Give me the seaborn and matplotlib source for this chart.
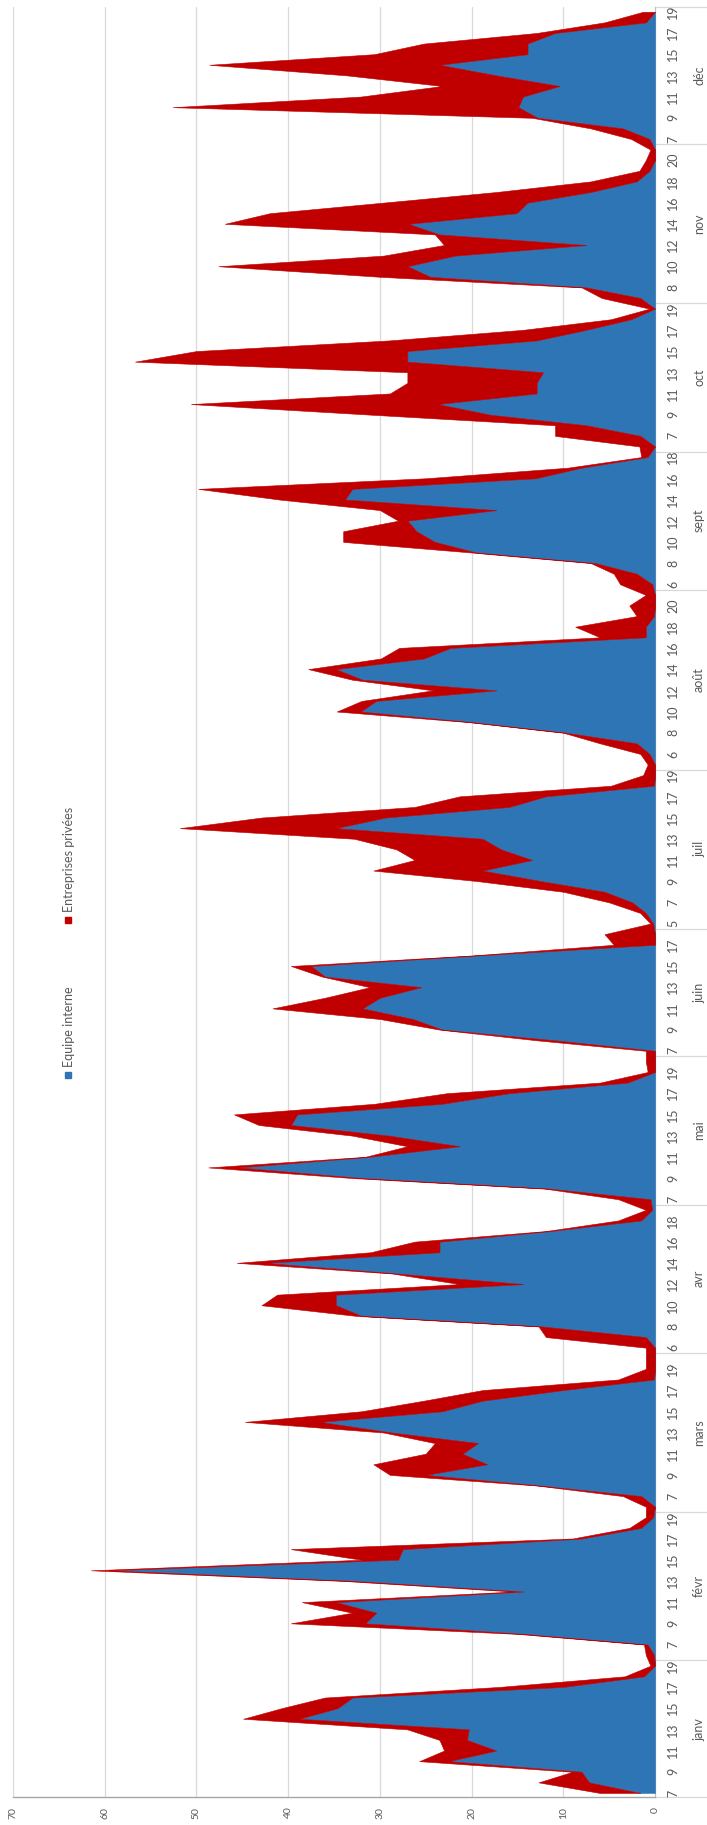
import numpy as np
import matplotlib
matplotlib.use("Agg")
import matplotlib.pyplot as plt
import matplotlib.transforms as mtransforms
import seaborn as sns

# Category axis: month groups and the hours recorded in each month
months = ["janv", "févr", "mars", "avr", "mai", "juin",
          "juil", "août", "sept", "oct", "nov", "déc"]
month_first_hour = [7, 6, 6, 6, 7, 7, 5, 5, 6, 6, 7, 7]
month_last_hour = [19, 19, 20, 19, 20, 18, 19, 21, 18, 19, 21, 19]

# Series: calls handled by the in-house team and by private companies
interne = [
    1.6, 7.2, 8.0, 22.5, 17.3, 20.5, 20.3, 38.8, 34.6, 33.0, 10.0, 1.2, 0.0,            # janv
    0.1, 0.8, 14.3, 31.6, 30.4, 34.8, 14.4, 33.0, 59.5, 28.0, 27.5, 8.0, 1.5, 0.2,      # févr
    0.0, 1.5, 12.6, 25.0, 18.3, 21.0, 19.3, 28.7, 36.5, 23.2, 18.8, 10.0, 0.1, 0.0, 0.0,  # mars
    0.0, 1.0, 12.3, 32.0, 34.8, 34.8, 14.4, 28.2, 42.5, 23.5, 23.5, 11.4, 1.5, 0.3,     # avr
    0.5, 11.5, 32.0, 45.4, 31.2, 21.3, 29.0, 39.7, 39.0, 23.2, 15.9, 3.0, 0.0, 0.0,     # mai
    0.0, 11.0, 23.2, 26.4, 31.9, 30.0, 25.5, 36.0, 37.5, 19.3, 0.0, 0.0,                # juin
    0.2, 1.0, 2.5, 5.5, 12.4, 18.8, 13.4, 16.8, 18.8, 34.8, 29.4, 15.9, 11.9, 0.1, 0.0,  # juil
    0.0, 0.6, 2.0, 9.7, 20.0, 32.1, 30.4, 17.3, 31.9, 34.8, 25.2, 22.3, 1.0, 1.0, 0.1, 0.0, 0.0,  # août
    0.3, 2.0, 6.5, 19.5, 24.0, 26.0, 27.0, 17.3, 33.8, 33.0, 13.0, 8.0, 0.8,            # sept
    0.0, 1.6, 7.5, 18.0, 23.7, 12.9, 12.9, 12.2, 27.0, 27.0, 12.9, 7.5, 2.6, 0.0,       # oct
    1.6, 7.5, 24.5, 27.0, 21.8, 7.5, 23.5, 26.9, 15.1, 13.9, 7.0, 2.0, 0.6, 0.0, 0.0,   # nov
    0.6, 3.5, 12.8, 14.9, 14.4, 10.4, 17.3, 23.5, 13.9, 13.9, 10.9, 1.0, 0.0,           # déc
]
privees = [
    4.4, 5.5, 1.0, 3.2, 5.7, 3.0, 6.7, 6.1, 6.1, 3.0, 7.0, 2.1, 0.5,                    # janv
    0.9, 0.4, 0.6, 8.1, 2.6, 3.7, 1.0, 1.0, 2.0, 4.0, 12.2, 1.0, 1.3, 0.8,              # févr
    1.0, 2.0, 0.3, 3.9, 12.4, 4.0, 4.7, 0.9, 8.2, 8.8, 6.4, 8.8, 3.9, 1.0, 1.0,         # mars
    1.0, 10.9, 0.4, 0.6, 8.1, 6.4, 6.9, 0.5, 3.1, 7.5, 2.7, 0.5, 2.5, 0.7,              # avr
    3.5, 0.5, 1.0, 3.3, 0.4, 5.7, 4.0, 3.5, 6.9, 7.4, 6.8, 3.0, 0.8, 1.0,               # mai
    1.0, 2.0, 0.3, 3.6, 9.8, 6.0, 5.6, 0.3, 2.2, 0.5, 4.5, 5.5,                         # juin
    0.3, 0.6, 2.5, 4.5, 6.9, 11.9, 12.8, 11.4, 14.0, 17.0, 13.5, 10.3, 9.4, 4.7, 1.3,   # juil
    0.8, 1.0, 4.0, 0.3, 0.3, 2.6, 1.6, 6.9, 1.1, 3.0, 4.7, 5.6, 5.0, 7.7, 1.9, 2.8, 1.0,  # août
    3.5, 2.5, 0.5, 0.5, 10.0, 8.0, 1.0, 12.7, 7.2, 16.8, 12.0, 1.5, 0.7,                # sept
    1.7, 9.3, 3.4, 13.0, 26.9, 16.0, 14.1, 14.8, 29.7, 23.0, 16.1, 6.9, 2.2, 0.6,       # oct
    4.2, 0.5, 5.4, 20.6, 7.8, 15.5, 0.5, 20.0, 26.9, 15.7, 10.3, 5.0, 1.1, 1.0, 0.5,    # nov
    2.0, 3.5, 0.6, 37.7, 17.7, 12.8, 16.3, 25.1, 16.7, 11.3, 2.0, 4.5, 1.3,             # déc
]
value_ticks = [0, 10, 20, 30, 40, 50, 60, 70]
series_names = ["Equipe interne", "Entreprises privées"]

BLUE = "#2E75B6"
RED = "#C00000"
GRID = "#D9D9D9"
TEXT = "#595959"

sns.set_theme(style="white")
plt.rcParams["font.family"] = ["Lato", "DejaVu Sans"]

# Flatten the two-level category axis
hours, month_of = [], []
for m, (h0, h1) in enumerate(zip(month_first_hour, month_last_hour)):
    for h in range(h0, h1 + 1):
        hours.append(h)
        month_of.append(m)
n = len(hours)
pos = np.arange(n)
interne_arr = np.array(interne)
total_arr = interne_arr + np.array(privees)

W, H = 707, 1825
fig = plt.figure(figsize=(W / 100, H / 100), dpi=100)
ax_left, ax_right, ax_top, ax_bottom = 13, 655, 7, 1797
ax = fig.add_axes([ax_left / W, 1 - ax_bottom / H,
                   (ax_right - ax_left) / W, (ax_bottom - ax_top) / H])

# Stacked area chart laid out vertically (categories run upward)
ax.fill_betweenx(pos, 0, interne_arr, color=BLUE, lw=0.4, edgecolor=BLUE, zorder=3)
ax.fill_betweenx(pos, interne_arr, total_arr, color=RED, lw=0.4, edgecolor=RED, zorder=3)

ax.set_xlim(70, 0)
ax.set_ylim(-0.38, n - 1 + 0.45)

for v in value_ticks[1:]:
    ax.axvline(v, color=GRID, lw=0.9, zorder=1)

for side in ["left", "top"]:
    ax.spines[side].set_visible(False)
ax.spines["right"].set_color("#BFBFBF")
ax.spines["right"].set_linewidth(0.9)
ax.spines["bottom"].set_color("#A6A6A6")
ax.spines["bottom"].set_linewidth(1.0)

ax.set_xticks(value_ticks)
ax.set_xticklabels([str(v) for v in value_ticks], rotation=90,
                   fontsize=7.5, color=TEXT)
ax.tick_params(axis="x", length=0, pad=7)
ax.set_yticks([])
ax.grid(False)

# Hour labels (every other category) and month group labels on the right
px_to_axes = 1.0 / (ax_right - ax_left)
trans = mtransforms.blended_transform_factory(ax.transAxes, ax.transData)
hour_x = 1 + (673 - ax_right) * px_to_axes
month_x = 1 + (699 - ax_right) * px_to_axes
for i in range(0, n, 2):
    ax.text(hour_x, pos[i], str(hours[i]), rotation=90, ha="center", va="center",
            fontsize=9, color=TEXT, transform=trans, clip_on=False)

sep_end = 1 + (W - ax_right) * px_to_axes
bounds = [-0.38]
for m in range(len(months)):
    idx = [i for i in range(n) if month_of[i] == m]
    center = (idx[0] + idx[-1]) / 2
    ax.text(month_x, center, months[m], rotation=90, ha="center", va="center",
            fontsize=9, color=TEXT, transform=trans, clip_on=False)
    bounds.append(idx[-1] + 0.5 if m < len(months) - 1 else n - 1 + 0.45)
for b in bounds:
    ax.plot([1, sep_end], [b, b], color=GRID, lw=0.9, transform=trans, clip_on=False)

# Legend drawn along the left margin
legend_items = [(series_names[0], BLUE, 1075, 1067), (series_names[1], RED, 920, 912)]
for label, color, sq_y, txt_y in legend_items:
    fig.patches.append(plt.Rectangle(((68 - 3) / W, 1 - (sq_y + 3) / H), 6 / W, 6 / H,
                                     color=color, transform=fig.transFigure))
    fig.text(69 / W, 1 - txt_y / H, label, rotation=90, ha="center", va="bottom",
             fontsize=9, color=TEXT)

fig.savefig("out.png", dpi=100)
